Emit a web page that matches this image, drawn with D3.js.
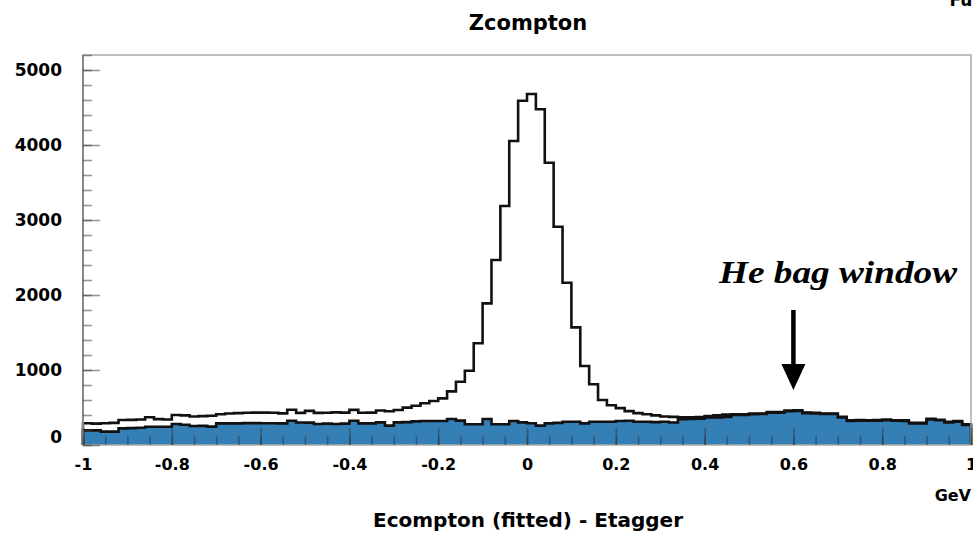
<!DOCTYPE html>
<html>
<head>
<meta charset="utf-8">
<script src="https://cdn.jsdelivr.net/npm/d3@7"></script>
<style>
  body { margin: 0; background: #fff; }
  svg { display: block; }
  .tick text { font-family: "DejaVu Sans", sans-serif; font-weight: bold; fill: #000; }
</style>
</head>
<body>
<svg id="chart" width="973" height="535"></svg>
<script>
// histogram binning: 100 bins from -1 to 1 GeV
const xMin = -1, xMax = 1, nBins = 100;

// all events (white histogram)
const totalCounts = [
  290, 285, 290, 295, 333, 335, 340, 370, 345, 340,
  400, 395, 380, 385, 390, 410, 420, 425, 430, 432,
  432, 430, 422, 470, 428, 455, 428, 430, 435, 432,
  468, 430, 432, 460, 450, 467, 498, 524, 556, 587,
  622, 715, 844, 991, 1356, 1889, 2467, 3187, 4053, 4591,
  4680, 4476, 3764, 2911, 2164, 1569, 1053, 810, 600, 530,
  492, 452, 425, 410, 395, 380, 375, 370, 368, 372,
  387, 396, 405, 408, 410, 418, 421, 438, 440, 458,
  462, 433, 430, 420, 421, 377, 328, 332, 331, 332,
  338, 331, 328, 297, 296, 350, 337, 308, 318, 275
];

// He bag window events (blue histogram)
const heBagCounts = [
  195, 195, 178, 178, 222, 225, 230, 244, 244, 244,
  280, 270, 253, 255, 245, 289, 289, 289, 292, 292,
  290, 290, 289, 324, 300, 298, 280, 285, 280, 285,
  324, 289, 289, 302, 258, 302, 305, 315, 320, 320,
  320, 347, 325, 276, 276, 347, 276, 276, 320, 302,
  290, 258, 289, 295, 311, 311, 289, 311, 311, 311,
  320, 324, 311, 311, 305, 311, 300, 345, 347, 350,
  369, 369, 375, 400, 400, 410, 413, 431, 431, 450,
  455, 425, 422, 413, 413, 369, 320, 324, 324, 324,
  330, 324, 320, 289, 289, 342, 330, 300, 311, 267
];

const xTickValues = [-1, -0.8, -0.6, -0.4, -0.2, 0, 0.2, 0.4, 0.6, 0.8, 1];
const yTickValues = [0, 1000, 2000, 3000, 4000, 5000];

const svg = d3.select('#chart');
const margin = { left: 83, right: 2, top: 55, bottom: 90 };
const W = 973, H = 535;

const x = d3.scaleLinear().domain([xMin, xMax]).range([margin.left, W - margin.right]);
const y = d3.scaleLinear().domain([0, 5200]).range([H - margin.bottom, margin.top]);

const binW = (xMax - xMin) / nBins;

// step outline points for a histogram
function steps(counts) {
  const pts = [];
  counts.forEach((c, i) => {
    const lo = xMin + i * binW;
    pts.push([lo, c], [lo + binW, c]);
  });
  return pts;
}

const area = d3.area()
  .x(d => x(d[0]))
  .y0(y(0))
  .y1(d => y(d[1]));

function outline(counts) {
  const line = d3.line().x(d => x(d[0])).y(d => y(d[1]));
  return `M${x(xMin)},${y(0)}L` + line(steps(counts)).slice(1) + `L${x(xMax)},${y(0)}`;
}

// total histogram
svg.append('path')
  .attr('d', area(steps(totalCounts)))
  .attr('fill', '#fff');
svg.append('path')
  .attr('d', outline(totalCounts))
  .attr('fill', 'none')
  .attr('stroke', '#111')
  .attr('stroke-width', 2.6);

// He bag histogram
svg.append('path')
  .attr('d', area(steps(heBagCounts)))
  .attr('fill', '#357fb7');
svg.append('path')
  .attr('d', outline(heBagCounts))
  .attr('fill', 'none')
  .attr('stroke', '#111')
  .attr('stroke-width', 2.6);

// frame
svg.append('rect')
  .attr('x', x(xMin)).attr('y', y(5200))
  .attr('width', x(xMax) - x(xMin)).attr('height', y(0) - y(5200))
  .attr('fill', 'none')
  .attr('stroke', '#aaa')
  .attr('stroke-width', 1.5);
svg.append('line')
  .attr('x1', x(xMin)).attr('x2', x(xMin))
  .attr('y1', y(5200)).attr('y2', y(0))
  .attr('stroke', '#888').attr('stroke-width', 2);

// y axis
svg.append('g')
  .attr('transform', `translate(${x(xMin)},0)`)
  .call(d3.axisLeft(y).tickValues(d3.range(0, 5201, 200)).tickSize(-9).tickFormat(''))
  .call(g => g.select('.domain').remove())
  .call(g => g.selectAll('line').attr('stroke', '#444').attr('stroke-opacity', 0.55).attr('stroke-width', 1.6));

svg.append('g')
  .attr('transform', `translate(${x(xMin)},0)`)
  .call(d3.axisLeft(y).tickValues(yTickValues).tickSize(-17).tickPadding(21).tickFormat(d3.format('d')))
  .call(g => g.select('.domain').remove())
  .call(g => g.selectAll('line').attr('stroke', '#444').attr('stroke-opacity', 0.55).attr('stroke-width', 1.6))
  .call(g => g.selectAll('text').attr('font-size', 17))
  .call(g => g.selectAll('.tick').filter(d => d === 0).select('text').attr('y', -8));

// x axis
svg.append('g')
  .attr('transform', `translate(0,${y(0)})`)
  .call(d3.axisBottom(x).tickValues(d3.range(-20, 21).map(i => i * 0.05)).tickSize(-9).tickFormat(''))
  .call(g => g.select('.domain').remove())
  .call(g => g.selectAll('line').attr('stroke', '#333').attr('stroke-opacity', 0.5).attr('stroke-width', 1.6));

svg.append('g')
  .attr('transform', `translate(0,${y(0)})`)
  .call(d3.axisBottom(x).tickValues(xTickValues).tickSize(-17).tickPadding(14).tickFormat(d => String(+d.toFixed(1))))
  .call(g => g.select('.domain').remove())
  .call(g => g.selectAll('line').attr('stroke', '#333').attr('stroke-opacity', 0.5).attr('stroke-width', 1.6))
  .call(g => g.selectAll('text').attr('font-size', 16));

// titles
const bold = 'DejaVu Sans, sans-serif';
svg.append('text')
  .attr('x', 528).attr('y', 30)
  .attr('text-anchor', 'middle')
  .attr('font-family', bold).attr('font-weight', 'bold').attr('font-size', 21)
  .text('Zcompton');

svg.append('text')
  .attr('x', 984).attr('y', 6)
  .attr('text-anchor', 'end')
  .attr('font-family', bold).attr('font-weight', 'bold').attr('font-size', 17)
  .text('Full');

svg.append('text')
  .attr('x', 528).attr('y', 527)
  .attr('text-anchor', 'middle')
  .attr('font-family', bold).attr('font-weight', 'bold').attr('font-size', 20)
  .text('Ecompton (fitted) - Etagger');

svg.append('text')
  .attr('x', 971).attr('y', 501)
  .attr('text-anchor', 'end')
  .attr('font-family', bold).attr('font-weight', 'bold').attr('font-size', 16)
  .text('GeV');

// He bag window annotation
const ax = x(0.6);
svg.append('text')
  .attr('x', 719).attr('y', 283)
  .attr('font-family', '"Liberation Serif", "DejaVu Serif", serif')
  .attr('font-style', 'italic').attr('font-weight', 'bold').attr('font-size', 31)
  .attr('textLength', 238).attr('lengthAdjust', 'spacingAndGlyphs')
  .text('He bag window');

svg.append('line')
  .attr('x1', ax).attr('x2', ax)
  .attr('y1', 310).attr('y2', 368)
  .attr('stroke', '#000').attr('stroke-width', 4.5);
svg.append('path')
  .attr('d', `M${ax - 12},364L${ax + 12},364L${ax},390Z`)
  .attr('fill', '#000');
</script>
</body>
</html>
